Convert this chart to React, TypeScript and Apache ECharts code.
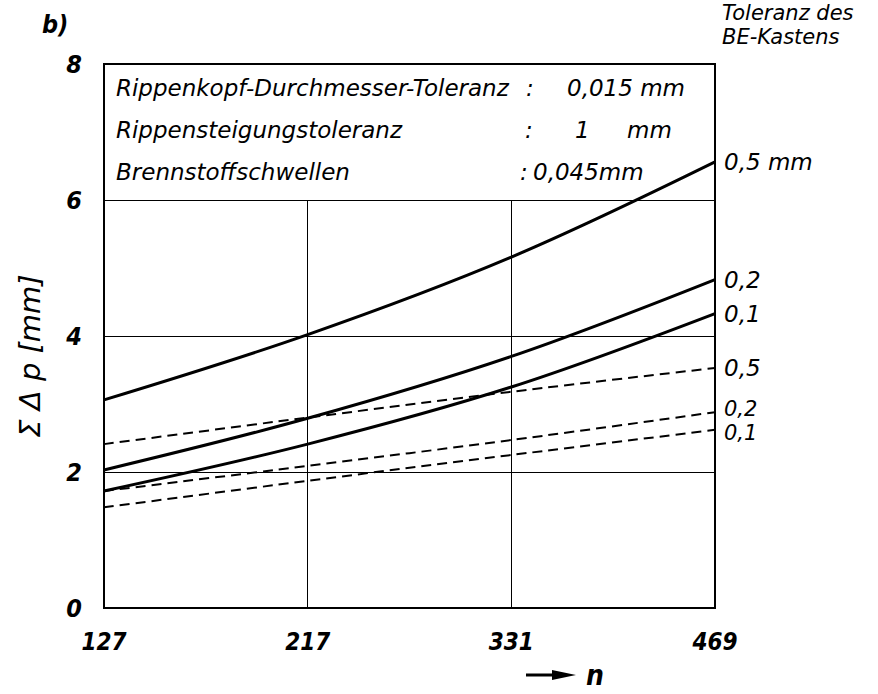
import React, { useEffect, useRef } from "react";
import * as echarts from "echarts";

const categories = ["127", "217", "331", "469"];
const yTicks = [0, 2, 4, 6, 8];
const solid05 = [3.06, 4.02, 5.16, 6.56];
const solid02 = [2.03, 2.79, 3.7, 4.83];
const solid01 = [1.72, 2.41, 3.25, 4.33];
const dashed05 = [2.41, 2.8, 3.18, 3.53];
const dashed02 = [1.72, 2.09, 2.47, 2.88];
const dashed01 = [1.48, 1.87, 2.25, 2.62];
const gridCats = ["217", "331"];

const FONT = "'DejaVu Sans Condensed', 'DejaVu Sans', sans-serif";
const FONT_W = "'DejaVu Sans', sans-serif";

export default function App() {
  const ref = useRef<HTMLDivElement>(null);
  useEffect(() => {
    document.body.style.margin = "0";
    const chart = echarts.init(ref.current!, null, { renderer: "svg" });
    const endLabel = (txt: string, dy = 0, size = 23) => ({
      show: true,
      formatter: txt,
      distance: 9,
      offset: [0, dy],
      color: "#000",
      fontSize: size,
      lineHeight: 18,
      fontStyle: "italic",
      fontFamily: FONT_W,
    });
    const solid = (name: string, data: number[], lbl: string, dy = 0) => ({
      name,
      type: "line",
      data,
      smooth: 0.35,
      symbol: "none",
      lineStyle: { color: "#000", width: 3 },
      endLabel: endLabel(lbl, dy),
    });
    const dashed = (name: string, data: number[], lbl: string, dy = 0, size = 23) => ({
      name,
      type: "line",
      data,
      smooth: 0.35,
      symbol: "none",
      lineStyle: { color: "#000", width: 2, type: [10, 6] },
      endLabel: endLabel(lbl, dy, size),
    });
    const s05: any = solid("s05", solid05, "0,5 mm");
    s05.markLine = {
      silent: true,
      symbol: "none",
      label: { show: false },
      lineStyle: { color: "#000", width: 1, type: "solid" },
      data: gridCats.map((c) => [{ coord: [c, yTicks[0]] }, { coord: [c, yTicks[3]] }]),
    };
    const boxText = (text: string, x: number, y: number) => ({
      type: "text",
      x,
      y,
      style: { text, fontSize: 23, fontStyle: "italic", fontFamily: FONT_W, fill: "#000", verticalAlign: "middle" },
    });
    chart.setOption({
      animation: false,
      backgroundColor: "#fff",
      grid: {
        left: 104,
        right: 163,
        top: 64,
        bottom: 86,
        show: true,
        borderColor: "#000",
        borderWidth: 2,
      },
      xAxis: {
        type: "category",
        data: categories,
        boundaryGap: false,
        axisLine: { show: true, lineStyle: { color: "#000", width: 2 } },
        axisTick: { show: false },
        splitLine: { show: false },
        axisLabel: {
          margin: 22,
          color: "#000",
          fontSize: 24,
          fontWeight: "bold",
          fontStyle: "italic",
          fontFamily: FONT,
        },
      },
      yAxis: {
        type: "value",
        min: yTicks[0],
        max: yTicks[yTicks.length - 1],
        interval: 2,
        axisLine: { show: true, lineStyle: { color: "#000", width: 2 } },
        axisTick: { show: false },
        splitLine: { show: true, lineStyle: { color: "#000", width: 1 } },
        axisLabel: {
          margin: 22,
          color: "#000",
          fontSize: 25,
          fontWeight: "bold",
          fontStyle: "italic",
          fontFamily: FONT,
        },
      },
      series: [
        s05,
        solid("s02", solid02, "0,2"),
        solid("s01", solid01, "0,1"),
        dashed("d05", dashed05, "0,5"),
        dashed("d02", dashed02, "0,2", -3, 21),
        dashed("d01", dashed01, "0,1", 3, 21),
      ],
      graphic: [
        { type: "text", left: 42, top: 12, style: { text: "b)", fontSize: 25, fontWeight: "bold", fontStyle: "italic", fontFamily: FONT, fill: "#000" } },
        { type: "text", left: 722, top: 1, style: { text: "Toleranz des\nBE-Kastens", fontSize: 21, lineHeight: 24, fontStyle: "italic", fontFamily: FONT_W, fill: "#000" } },
        boxText("Rippenkopf-Durchmesser-Toleranz", 116, 88),
        boxText(":", 526, 88),
        boxText("0,015 mm", 567, 88),
        boxText("Rippensteigungstoleranz", 116, 130),
        boxText(":", 525, 130),
        boxText("1", 575, 130),
        boxText("mm", 627, 130),
        boxText("Brennstoffschwellen", 116, 172),
        boxText(":", 520, 172),
        boxText("0,045mm", 533, 172),
        { type: "text", x: 30, y: 356, rotation: Math.PI / 2, style: { text: "Σ Δ p [mm]", fontSize: 29, fontStyle: "italic", fontFamily: FONT_W, fill: "#000", align: "center", verticalAlign: "middle" } },
        { type: "line", shape: { x1: 526, y1: 675, x2: 556, y2: 675 }, style: { stroke: "#000", lineWidth: 3 } },
        { type: "polygon", shape: { points: [[552, 670], [576, 675], [552, 680]] }, style: { fill: "#000" } },
        { type: "text", x: 586, y: 675, style: { text: "n", fontSize: 28, lineHeight: 28, fontWeight: "bold", fontStyle: "italic", fontFamily: FONT, fill: "#000", verticalAlign: "middle" } },
      ],
    });
    return () => chart.dispose();
  }, []);
  return <div ref={ref} style={{ width: 878, height: 694 }} />;
}
